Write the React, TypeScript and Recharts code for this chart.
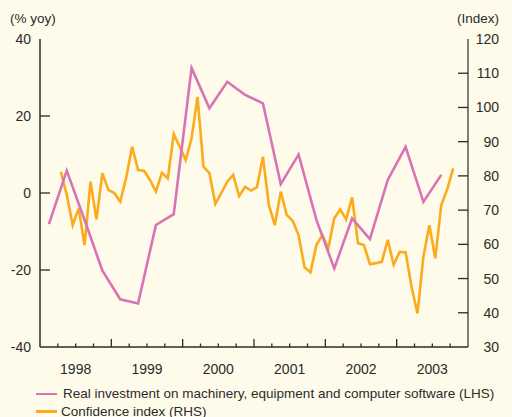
import { LineChart, Line, XAxis, YAxis } from 'recharts';

// investment, % yoy, quarterly from 1998Q1
const INVEST_START = '1998Q1';
const INVEST_VALUES = [
  -8.1, 5.8, -7, -20.2,
  -27.6, -28.7, -8.3, -5.5,
  32.5, 22, 28.9, 25.5,
  23.3, 2.3, 10, -7,
  -19.6, -6.6, -12, 3.4,
  12, -2.3, 4.7,
];

// confidence index, monthly from Apr 1998
const CONF_START = '1998-04';
const CONF_VALUES = [
  81.2, 74.5, 65.6, 70.5, 59.8, 78.3, 67.3, 80.8, 75.9,
  75, 72.5, 79.5, 88.5, 81.7, 81.5, 78.8, 75.4, 80.9, 79.3, 92.2, 88.5,
  84.6, 91, 103.1, 82.7, 80.8, 71.8, 75, 78.3, 80.3, 74.1, 76.8, 75.7,
  76.7, 85.6, 71.5, 65.6, 75.4, 68.6, 66.9, 62.7, 53.3, 51.8, 59.8, 62.7,
  58.8, 67.6, 70.2, 67.3, 73.7, 60.3, 59.8, 54.2, 54.5, 54.9, 61.3, 54,
  57.8, 57.7, 47.6, 39.8, 56.4, 65.6, 55.9, 71.5, 76, 82.2,
];

const YEARS = ['1998', '1999', '2000', '2001', '2002', '2003'];
const LHS_TICKS = [-40, -20, 0, 20, 40];
const RHS_TICKS = [30, 40, 50, 60, 70, 80, 90, 100, 110, 120];

const PINK = '#d873b6';
const ORANGE = '#fbab1c';
const INK = '#2b2b2b';
const FONT = '"Liberation Sans", Arial, Helvetica, sans-serif';

const firstYear = Number(YEARS[0]);

// months since Jan of first year, at period midpoint
const investStartMonth = (Number(INVEST_START.slice(0, 4)) - firstYear) * 12 + (Number(INVEST_START.slice(5)) - 1) * 3;
const confStartMonth = (Number(CONF_START.slice(0, 4)) - firstYear) * 12 + Number(CONF_START.slice(5)) - 1;

const investData = INVEST_VALUES.map((v, i) => ({ t: investStartMonth + i * 3 + 1.5, invest: v }));
const confData = CONF_VALUES.map((v, i) => ({ t: confStartMonth + i + 0.5, conf: v }));

const totalMonths = YEARS.length * 12;
const quarterTicks = Array.from({ length: totalMonths / 3 + 1 }, (_, i) => i * 3);

const XTick = (props: any) => {
  const { x, y, payload } = props;
  const m = payload.value;
  const inner = m > 0 && m < totalMonths;
  const major = m % 12 === 0;
  const label = m % 12 === 6 ? YEARS[(m - 6) / 12] : null;
  return (
    <g>
      {inner && <line x1={x} x2={x} y1={y} y2={y - (major ? 8 : 3.5)} stroke={INK} strokeWidth={1.3} />}
      {label && (
        <text x={x} y={y + 22} textAnchor="middle" dominantBaseline="central" fill={INK} fontSize={14} fontFamily={FONT}>
          {label}
        </text>
      )}
    </g>
  );
};

const LeftTick = (props: any) => {
  const { x, y, payload } = props;
  const v = payload.value;
  return (
    <g>
      {v > -40 && v < 40 && <line x1={x} x2={x + 10} y1={y} y2={y} stroke={INK} strokeWidth={1.3} />}
      <text x={x - 9} y={y} textAnchor="end" dominantBaseline="central" fill={INK} fontSize={14} fontFamily={FONT}>
        {v}
      </text>
    </g>
  );
};

const RightTick = (props: any) => {
  const { x, y, payload } = props;
  const v = payload.value;
  return (
    <g>
      {v > 30 && v < 120 && <line x1={x} x2={x - 10} y1={y} y2={y} stroke={INK} strokeWidth={1.3} />}
      <text x={x + 31} y={y} textAnchor="end" dominantBaseline="central" fill={INK} fontSize={14} fontFamily={FONT}>
        {v}
      </text>
    </g>
  );
};

export default function App() {
  return (
    <div style={{ position: 'absolute', left: 0, top: 0, width: 512, height: 417, background: '#fefbea', fontFamily: FONT, color: INK, overflow: 'hidden' }}>
      <div style={{ position: 'absolute', left: 10, top: 11, fontSize: 13.5 }}>(% yoy)</div>
      <div style={{ position: 'absolute', right: 13, top: 11, fontSize: 13.5 }}>(Index)</div>

      <LineChart width={512} height={385} margin={{ top: 39, right: 0, bottom: 0, left: 0 }}>
        <XAxis
          dataKey="t"
          type="number"
          domain={[0, totalMonths]}
          ticks={quarterTicks}
          interval={0}
          height={38}
          tickSize={0}
          tickMargin={0}
          tickLine={false}
          axisLine={{ stroke: INK, strokeWidth: 1.5 }}
          tick={<XTick />}
          allowDataOverflow
        />
        <YAxis
          yAxisId="lhs"
          domain={[-40, 40]}
          ticks={LHS_TICKS}
          width={40}
          tickSize={0}
          tickMargin={0}
          tickLine={false}
          axisLine={{ stroke: INK, strokeWidth: 1.5 }}
          tick={<LeftTick />}
        />
        <YAxis
          yAxisId="rhs"
          orientation="right"
          domain={[30, 120]}
          ticks={RHS_TICKS}
          width={44}
          tickSize={0}
          tickMargin={0}
          tickLine={false}
          axisLine={{ stroke: '#555', strokeWidth: 1.5 }}
          tick={<RightTick />}
        />
        <Line
          yAxisId="rhs"
          data={confData}
          dataKey="conf"
          stroke={ORANGE}
          strokeWidth={2.6}
          dot={false}
          strokeLinejoin="miter"
          isAnimationActive={false}
        />
        <Line
          yAxisId="lhs"
          data={investData}
          dataKey="invest"
          stroke={PINK}
          strokeWidth={2.6}
          dot={false}
          strokeLinejoin="miter"
          isAnimationActive={false}
        />
      </LineChart>

      <div style={{ position: 'absolute', left: 36, top: 385, fontSize: 13.5, lineHeight: '17.5px' }}>
        <div style={{ display: 'flex', alignItems: 'center' }}>
          <span style={{ width: 21, height: 2.5, background: PINK, marginRight: 6, display: 'inline-block' }} />
          Real investment on machinery, equipment and computer software (LHS)
        </div>
        <div style={{ display: 'flex', alignItems: 'center' }}>
          <span style={{ width: 21, height: 2.5, background: ORANGE, marginRight: 4, display: 'inline-block' }} />
          Confidence index (RHS)
        </div>
      </div>
    </div>
  );
}
